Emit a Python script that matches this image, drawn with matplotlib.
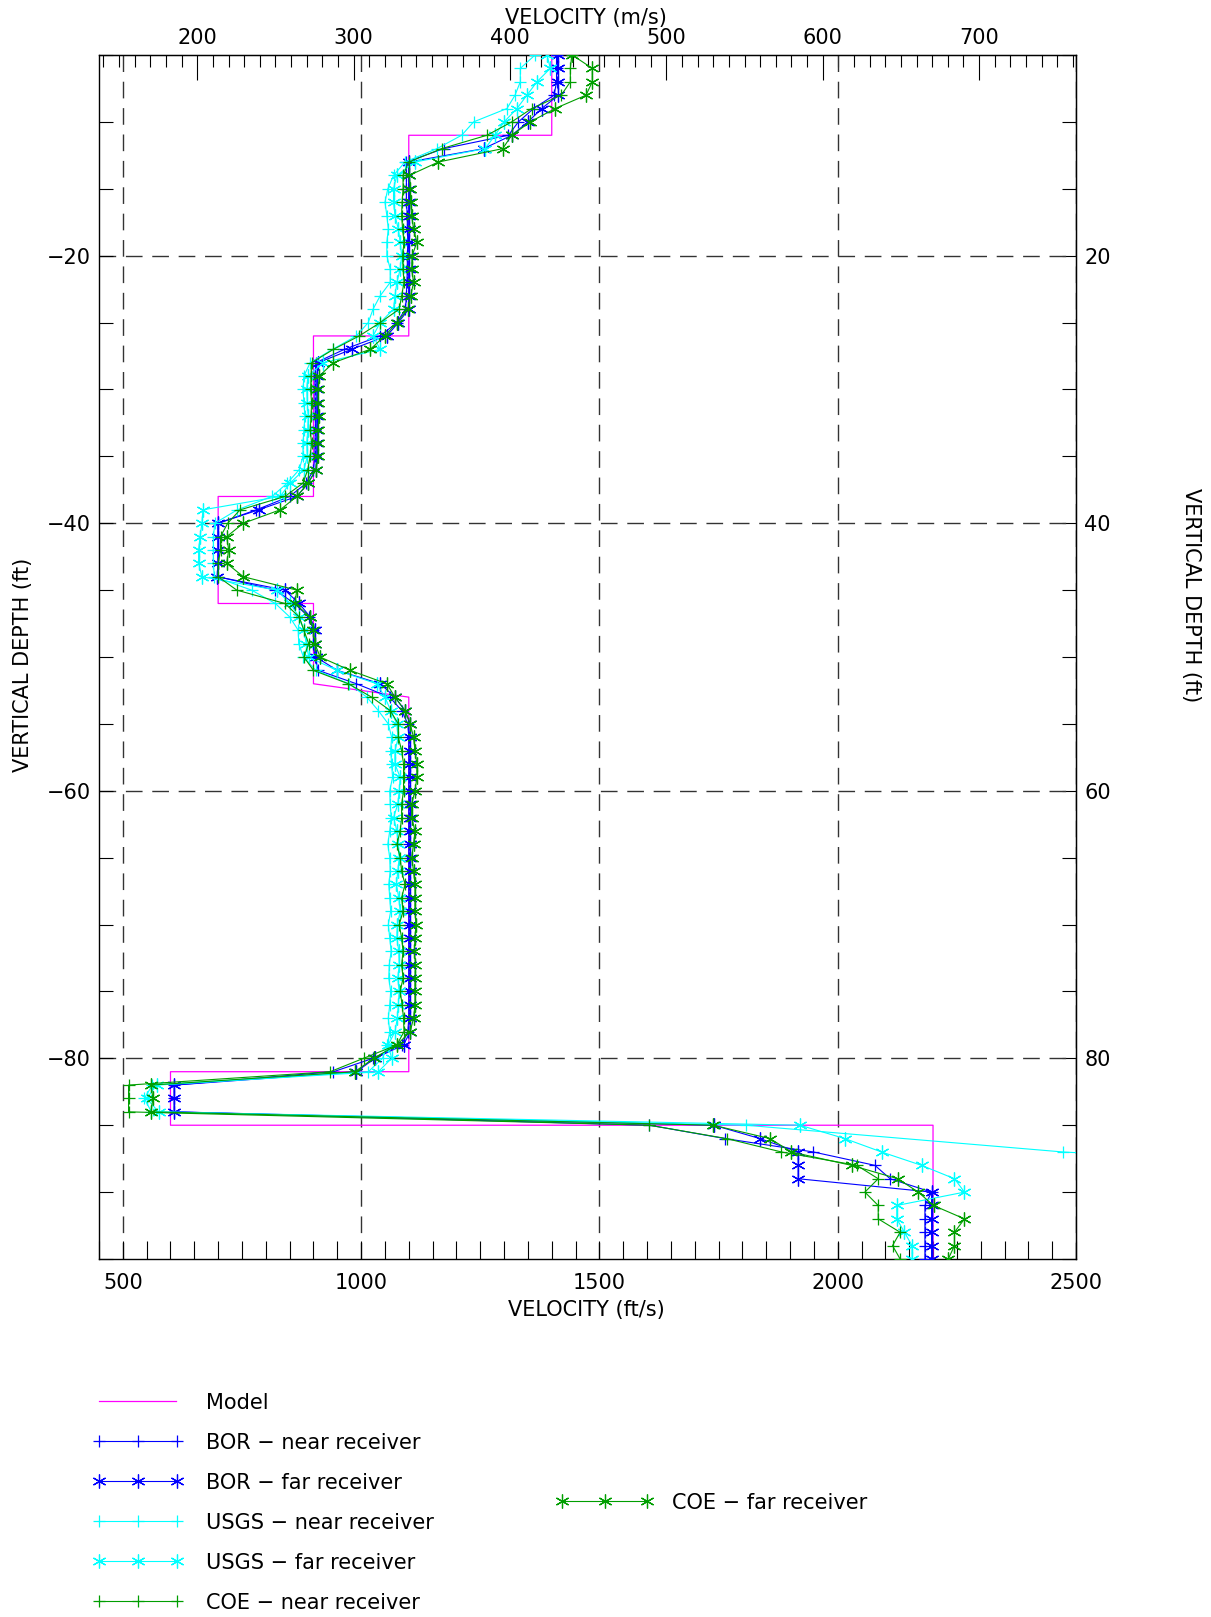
import matplotlib
matplotlib.use("Agg")
import matplotlib.pyplot as plt
from matplotlib.ticker import MultipleLocator, FixedLocator

plt.rcParams['font.family'] = ['DejaVu Sans']

# ---------------- data ----------------
depth = list(range(-5, -96, -1))  # -5 ... -95 ft

model_v = [1400, 1400, 1100, 1100, 900, 900, 700, 700, 900, 900, 1100, 1100, 600, 600, 2200, 2200]
model_d = [-5, -11, -11, -26, -26, -38, -38, -46, -46, -52, -53, -81, -81, -85, -85, -95]

bor_near = [1410, 1410, 1410, 1405, 1362, 1330, 1309, 1173, 1095, 1095,
            1095, 1095, 1097, 1097, 1098, 1097, 1097, 1096, 1095, 1093,
            1075, 1040, 965, 905, 903, 903, 903, 904, 904, 903,
            903, 900, 885, 850, 780, 700, 700, 700, 700, 700,
            820, 860, 890, 900, 900, 903, 910, 990, 1060, 1085,
            1098, 1100, 1100, 1100, 1100, 1100, 1100, 1100, 1100, 1100,
            1100, 1100, 1100, 1100, 1100, 1100, 1100, 1100, 1100, 1100,
            1100, 1100, 1100, 1098, 1085, 1025, 942, 608, 608, 608,
            1605, 1764, 1949, 2078, 2110, 2197, 2183, 2183, 2183, 2183,
            2183]

bor_far = [1414, 1414, 1414, 1414, 1379, 1350, 1316, 1257, 1100, 1100,
           1100, 1100, 1100, 1100, 1100, 1100, 1100, 1100, 1100, 1100,
           1078, 1054, 980, 910, 907, 907, 907, 907, 907, 907,
           907, 905, 889, 865, 785, 700, 700, 700, 700, 698,
           840, 870, 893, 904, 904, 905, 950, 1040, 1071, 1092,
           1103, 1103, 1103, 1103, 1103, 1103, 1103, 1103, 1103, 1103,
           1103, 1103, 1103, 1103, 1103, 1103, 1103, 1103, 1103, 1103,
           1103, 1103, 1103, 1103, 1089, 1029, 990, 608, 608, 608,
           1740, 1837, 1917, 1917, 1917, 2197, 2197, 2197, 2197, 2197,
           2197]

usgs_near_depth = list(range(-5, -86, -1)) + [-87, -88]
usgs_near = [1365, 1334, 1334, 1323, 1306, 1236, 1211, 1159, 1092, 1068,
             1056, 1050, 1054, 1057, 1054, 1054, 1061, 1061, 1040, 1025,
             1015, 990, 940, 893, 880, 878, 880, 882, 880, 878,
             878, 870, 845, 813, 740, 693, 690, 690, 690, 692,
             770, 820, 850, 868, 869, 879, 905, 975, 1012, 1036,
             1057, 1064, 1062, 1064, 1066, 1060, 1061, 1063, 1060, 1056,
             1060, 1061, 1058, 1060, 1062, 1057, 1060, 1063, 1059, 1058,
             1062, 1060, 1057, 1060, 1055, 1045, 1015, 562, 545, 560,
             1807, 2473, 3000]

usgs_far = [1390, 1397, 1369, 1348, 1327, 1300, 1281, 1260, 1113, 1075,
            1068, 1068, 1071, 1078, 1082, 1085, 1082, 1075, 1071, 1068,
            1040, 1025, 1040, 921, 888, 886, 887, 889, 888, 886,
            887, 880, 851, 830, 668, 666, 662, 659, 659, 666,
            823, 851, 870, 880, 885, 890, 949, 1033, 1050, 1062,
            1075, 1078, 1071, 1071, 1082, 1080, 1077, 1068, 1075, 1078,
            1080, 1077, 1074, 1079, 1082, 1076, 1075, 1079, 1080, 1077,
            1080, 1078, 1076, 1071, 1057, 1064, 1036, 571, 550, 575,
            1921, 2015, 2092, 2176, 2245, 2266, 2124, 2124, 2140, 2156,
            2156]

coe_near = [1442, 1439, 1439, 1420, 1358, 1316, 1264, 1169, 1100, 1088,
            1088, 1086, 1085, 1087, 1090, 1087, 1088, 1090, 1085, 1080,
            1040, 996, 942, 896, 895, 894, 896, 895, 893, 896,
            893, 888, 878, 840, 746, 720, 705, 705, 700, 700,
            739, 840, 870, 880, 890, 880, 900, 973, 1022, 1061,
            1078, 1078, 1085, 1089, 1089, 1089, 1085, 1085, 1082, 1075,
            1082, 1085, 1092, 1085, 1088, 1080, 1085, 1088, 1085, 1088,
            1082, 1086, 1089, 1090, 1075, 1005, 935, 512, 512, 512,
            1605, 1767, 1882, 2040, 2085, 2057, 2085, 2085, 2131, 2115,
            2131]

coe_far = [1443, 1485, 1485, 1472, 1407, 1355, 1316, 1297, 1162, 1101,
           1103, 1104, 1106, 1110, 1117, 1107, 1106, 1110, 1104, 1098,
           1075, 1050, 1019, 942, 912, 910, 910, 911, 910, 910,
           910, 905, 889, 865, 830, 753, 718, 722, 718, 753,
           865, 861, 893, 900, 903, 914, 977, 1054, 1071, 1092,
           1103, 1110, 1113, 1117, 1117, 1113, 1106, 1106, 1113, 1110,
           1106, 1110, 1113, 1113, 1113, 1115, 1113, 1112, 1114, 1113,
           1113, 1113, 1110, 1103, 1075, 1026, 987, 559, 563, 559,
           1739, 1858, 1903, 2029, 2126, 2169, 2201, 2266, 2245, 2245,
           2232]

labels = ["Model", "BOR \u2212 near receiver", "BOR \u2212 far receiver",
          "USGS \u2212 near receiver", "USGS \u2212 far receiver",
          "COE \u2212 near receiver", "COE \u2212 far receiver"]

# ---------------- styles ----------------
MAG, BLUE, CYAN, GREEN = '#ff00ff', '#0000ff', '#00ffff', '#009e00'
STAR = (6, 2, 0)
LW = 0.8
FS = 15
MS_STAR, MS_PLUS = 10, 9

W, H = 1211, 1617
fig = plt.figure(figsize=(W / 100, H / 100), dpi=100)


def rect(l, t, r, b):
    return [l / W, 1 - b / H, (r - l) / W, (b - t) / H]


ax = fig.add_axes(rect(99, 55, 1076, 1259))
ax.set_xlim(450, 2500)
ax.set_ylim(-95, -5)

series = [
    (bor_near, depth, BLUE, '+'),
    (bor_far, depth, BLUE, STAR),
    (usgs_near, usgs_near_depth, CYAN, '+'),
    (usgs_far, depth, CYAN, STAR),
    (coe_near, depth, GREEN, '+'),
    (coe_far, depth, GREEN, STAR),
]

ax.plot(model_v, model_d, color=MAG, lw=0.9, zorder=3)
for i, (v, d, c, m) in enumerate(series):
    ms = MS_STAR if m == STAR else MS_PLUS
    ax.plot(v, d, color=c, lw=LW, marker=m, ms=ms, mew=0.9, zorder=4 + i)

# axes styling
for s in ax.spines.values():
    s.set_linewidth(1.0)
ax.xaxis.set_major_locator(MultipleLocator(500))
ax.xaxis.set_minor_locator(MultipleLocator(50))
ax.yaxis.set_major_locator(FixedLocator([-80, -60, -40, -20]))
ax.yaxis.set_minor_locator(MultipleLocator(5))
ax.tick_params(axis='x', which='both', direction='in', length=13, width=0.8,
               top=False, labelsize=FS, pad=10)
ax.tick_params(axis='y', which='both', direction='in', length=10, width=0.8,
               right=False, labelsize=FS, pad=6)
ax.grid(True, which='major', color='#333333', lw=1.0, linestyle=(0, (12, 7)))
ax.set_axisbelow(True)

# top axis in m/s
sec_x = ax.secondary_xaxis('top', functions=(lambda v: v * 0.3048, lambda m: m / 0.3048))
sec_x.xaxis.set_major_locator(MultipleLocator(100))
sec_x.xaxis.set_minor_locator(MultipleLocator(10))
sec_x.tick_params(which='major', direction='in', length=18, width=0.8, labelsize=FS, pad=5)
sec_x.tick_params(which='minor', direction='in', length=8.5, width=0.8)

# right axis positive depth
sec_y = ax.secondary_yaxis('right', functions=(lambda d: -d, lambda d: -d))
sec_y.yaxis.set_major_locator(FixedLocator([20, 40, 60, 80]))
sec_y.yaxis.set_minor_locator(MultipleLocator(5))
sec_y.tick_params(which='both', direction='in', length=10, width=0.8, labelsize=FS, pad=6)

# axis titles
def ftext(x, y, s, **kw):
    fig.text(x / W, 1 - y / H, s, fontsize=FS, ha='center', va='center', **kw)

ftext(586, 1310, "VELOCITY (ft/s)")
ftext(586, 18, "VELOCITY (m/s)")
ftext(23, 665, "VERTICAL DEPTH (ft)", rotation=90)
ftext(1191, 595, "VERTICAL DEPTH (ft)", rotation=270)

# ---------------- legend ----------------
lax = fig.add_axes([0, 0, 1, 1])
lax.set_xlim(0, W)
lax.set_ylim(H, 0)
lax.axis('off')

entries = [
    (labels[0], MAG, None, 99, 176, 1401, 206),
    (labels[1], BLUE, '+', 99, 177, 1441, 206),
    (labels[2], BLUE, STAR, 99, 177, 1481, 206),
    (labels[3], CYAN, '+', 99, 177, 1521, 206),
    (labels[4], CYAN, STAR, 99, 177, 1561, 206),
    (labels[5], GREEN, '+', 99, 177, 1601, 206),
    (labels[6], GREEN, STAR, 562, 647, 1501, 672),
]
for lab, c, m, x0, x1, y, tx in entries:
    if m is None:
        lax.plot([x0, x1], [y, y], color=c, lw=0.9)
    else:
        ms = MS_STAR if m == STAR else MS_PLUS
        lax.plot([x0, (x0 + x1) / 2, x1], [y, y, y], color=c, lw=LW, marker=m,
                 ms=ms, mew=0.9)
    lax.text(tx, y + 2, lab, fontsize=FS, ha='left', va='center')

fig.savefig("out.png", dpi=100)
